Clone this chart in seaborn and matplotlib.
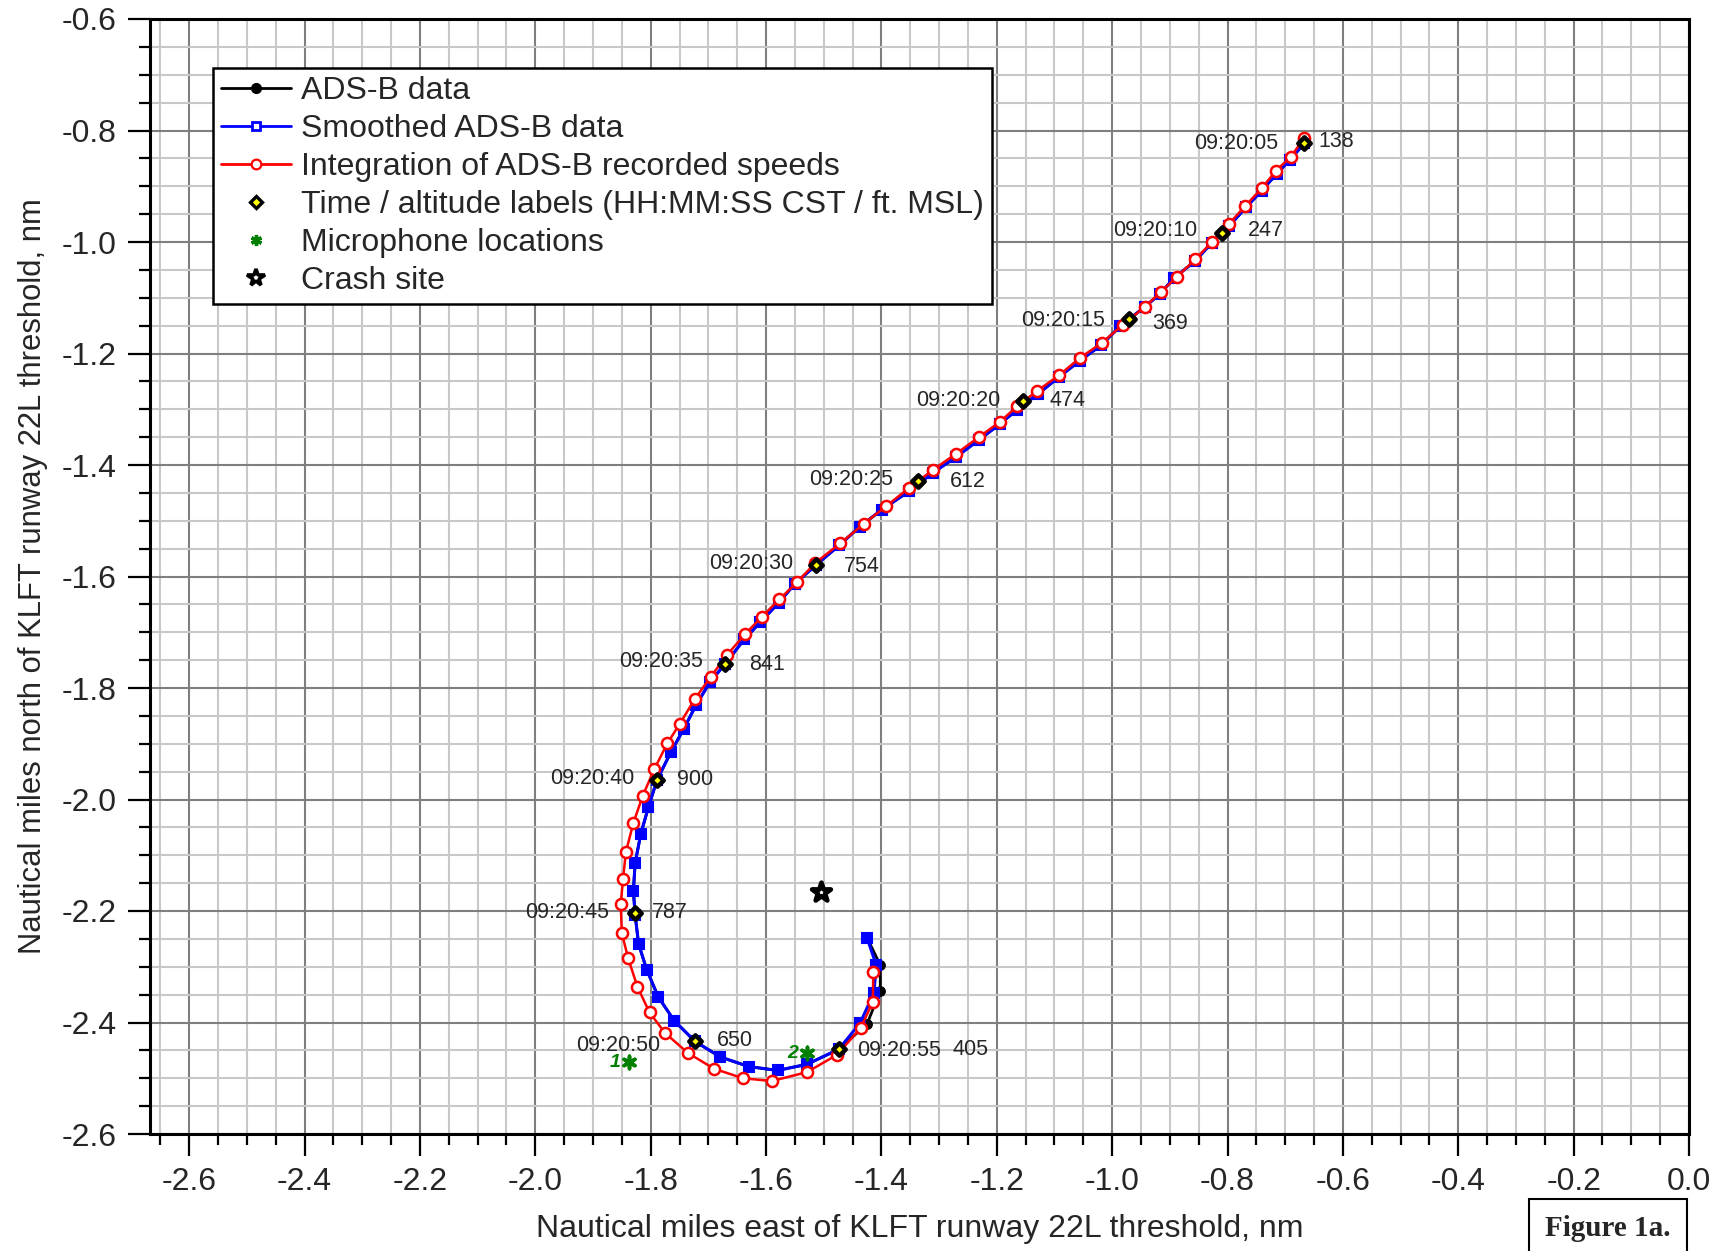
import pandas as pd
import seaborn as sb
import matplotlib.pyplot as plt
from matplotlib.lines import Line2D
from matplotlib.ticker import MultipleLocator, FormatStrFormatter

# track positions, nm east / nm north of KLFT runway 22L threshold (about 1 point per second)
adsb_x = [-0.667, -0.692, -0.715, -0.741, -0.768, -0.797, -0.827, -0.856, -0.893, -0.917,
          -0.943, -0.986, -1.019, -1.056, -1.092, -1.129, -1.165, -1.194, -1.231, -1.271,
          -1.311, -1.352, -1.399, -1.438, -1.473, -1.513, -1.550, -1.578, -1.610, -1.638,
          -1.671, -1.697, -1.721, -1.743, -1.765, -1.789, -1.804, -1.817, -1.827, -1.830,
          -1.827, -1.821, -1.807, -1.787, -1.759, -1.723, -1.679, -1.630, -1.580, -1.529,
          -1.474, -1.425, -1.402, -1.402, -1.425]
adsb_y = [-0.823, -0.853, -0.878, -0.908, -0.938, -0.971, -1.001, -1.034, -1.065, -1.093,
          -1.116, -1.151, -1.185, -1.213, -1.242, -1.273, -1.301, -1.326, -1.355, -1.386,
          -1.414, -1.447, -1.480, -1.511, -1.544, -1.579, -1.613, -1.647, -1.682, -1.713,
          -1.757, -1.789, -1.830, -1.874, -1.915, -1.965, -2.014, -2.061, -2.114, -2.164,
          -2.207, -2.259, -2.305, -2.354, -2.397, -2.434, -2.462, -2.479, -2.486, -2.475,
          -2.448, -2.403, -2.343, -2.297, -2.248]

smooth_x = adsb_x[:51] + [-1.437, -1.413, -1.409, -1.425]
smooth_y = adsb_y[:51] + [-2.401, -2.347, -2.297, -2.248]

integ_x = [-0.667, -0.690, -0.716, -0.741, -0.769, -0.798, -0.827, -0.856, -0.888, -0.916,
           -0.943, -0.982, -1.018, -1.056, -1.092, -1.130, -1.165, -1.194, -1.231, -1.271,
           -1.311, -1.352, -1.392, -1.431, -1.471, -1.515, -1.546, -1.577, -1.607, -1.636,
           -1.668, -1.696, -1.723, -1.750, -1.771, -1.794, -1.814, -1.830, -1.843, -1.848,
           -1.852, -1.850, -1.839, -1.823, -1.802, -1.775, -1.735, -1.690, -1.640, -1.590,
           -1.529, -1.477, -1.436, -1.415, -1.414]
integ_y = [-0.813, -0.847, -0.872, -0.904, -0.935, -0.968, -1.000, -1.031, -1.063, -1.090,
           -1.116, -1.149, -1.181, -1.208, -1.239, -1.267, -1.295, -1.322, -1.350, -1.380,
           -1.409, -1.441, -1.474, -1.506, -1.540, -1.576, -1.610, -1.641, -1.672, -1.703,
           -1.741, -1.780, -1.819, -1.865, -1.899, -1.946, -1.994, -2.042, -2.094, -2.143,
           -2.188, -2.240, -2.285, -2.336, -2.382, -2.419, -2.455, -2.483, -2.500, -2.505,
           -2.489, -2.458, -2.410, -2.363, -2.309]

label_times = ["09:20:05", "09:20:10", "09:20:15", "09:20:20", "09:20:25", "09:20:30",
               "09:20:35", "09:20:40", "09:20:45", "09:20:50", "09:20:55"]
label_alts = ["138", "247", "369", "474", "612", "754", "841", "900", "787", "650", "405"]
label_x = [-0.667, -0.810, -0.970, -1.154, -1.337, -1.513, -1.671, -1.789, -1.827, -1.723, -1.474]
label_y = [-0.823, -0.984, -1.139, -1.285, -1.429, -1.579, -1.757, -1.965, -2.203, -2.434, -2.448]

mic_names = ["1", "2"]
mic_x = [-1.837, -1.529]
mic_y = [-2.471, -2.455]

crash_x = [-1.505]
crash_y = [-2.166]

# text offsets (points) for the time / altitude labels
time_dx = [-19, -17.5, -17.5, -16.7, -17.5, -16.7, -16, -16, -19, -25, 13.5]
time_dy = [0, 1.5, -1, 0, 1.5, 1, 1.5, 1, 0, -3, -1]
alt_dx = [10, 19, 16.7, 19, 23, 20, 17.5, 14.3, 12, 16, 82]
alt_dy = [1.5, 1.5, -3, 0, 0, -1.5, 0, 0, 0, 1, 0]

sb.set_style("white")
plt.rcParams['font.family'] = ['Liberation Sans', 'DejaVu Sans']
plt.rcParams['axes.unicode_minus'] = False

fig = plt.figure(figsize=(17.31, 12.51), dpi=100)
ax = fig.add_axes([150 / 1731, 1 - 1134 / 1251, 1539 / 1731, 1115 / 1251])

adsb = pd.DataFrame({'x': adsb_x, 'y': adsb_y})
smooth = pd.DataFrame({'x': smooth_x, 'y': smooth_y})
integ = pd.DataFrame({'x': integ_x, 'y': integ_y})

sb.lineplot(data=adsb, x='x', y='y', sort=False, estimator=None, ax=ax, color='black',
            lw=2, marker='o', markersize=7, markeredgecolor='black', zorder=3)
sb.lineplot(data=smooth, x='x', y='y', sort=False, estimator=None, ax=ax, color='blue',
            lw=2.2, marker='s', markersize=6.5, markerfacecolor='blue', markeredgecolor='blue',
            markeredgewidth=1.5, zorder=4)
sb.lineplot(data=integ, x='x', y='y', sort=False, estimator=None, ax=ax, color='red',
            lw=1.8, marker='o', markersize=8, markerfacecolor='white', markeredgecolor='red',
            markeredgewidth=1.8, zorder=5)

labels = pd.DataFrame({'x': label_x, 'y': label_y})
sb.scatterplot(data=labels, x='x', y='y', ax=ax, marker='D', s=40, color='yellow',
               edgecolor='black', linewidth=3.2, zorder=6)
mics = pd.DataFrame({'x': mic_x, 'y': mic_y})
sb.scatterplot(data=mics, x='x', y='y', ax=ax, marker=(6, 2, 0), s=80, color='green',
               edgecolor='green', linewidth=2.6, zorder=6)
crash = pd.DataFrame({'x': crash_x, 'y': crash_y})
sb.scatterplot(data=crash, x='x', y='y', ax=ax, marker='*', s=200, color='white',
               edgecolor='black', linewidth=3.4, zorder=6)

for i in range(len(label_times)):
    ha = 'left' if time_dx[i] > 0 else 'right'
    ax.annotate(label_times[i], (label_x[i], label_y[i]), xytext=(time_dx[i], time_dy[i]),
                textcoords='offset points', ha=ha, va='center', fontsize=15.5, zorder=7)
    ax.annotate(label_alts[i], (label_x[i], label_y[i]), xytext=(alt_dx[i], alt_dy[i]),
                textcoords='offset points', ha='left', va='center', fontsize=15.5, zorder=7)

for name, mx, my in zip(mic_names, mic_x, mic_y):
    ax.annotate(name, (mx, my), xytext=(-10, 0), textcoords='offset points', ha='center',
                va='center', fontsize=14, color='green', fontweight='bold', fontstyle='italic')

ax.set_xlim(-2.668, 0.0)
ax.set_ylim(-2.6, -0.6)
ax.xaxis.set_major_locator(MultipleLocator(0.2))
ax.yaxis.set_major_locator(MultipleLocator(0.2))
ax.xaxis.set_minor_locator(MultipleLocator(0.05))
ax.yaxis.set_minor_locator(MultipleLocator(0.05))
ax.xaxis.set_major_formatter(FormatStrFormatter('%.1f'))
ax.yaxis.set_major_formatter(FormatStrFormatter('%.1f'))
ax.set_axisbelow(True)
ax.grid(which='minor', color='#c8c8c8', lw=1.5)
ax.grid(which='major', color='#7f7f7f', lw=1.5)
ax.tick_params(which='major', direction='out', length=16, width=1.6, labelsize=23, pad=8,
               left=True, bottom=True, color='black')
ax.tick_params(which='minor', direction='out', length=8, width=1.6, left=True, bottom=True,
               color='black')
for sp in ax.spines.values():
    sp.set_color('black')
    sp.set_linewidth(2.2)

ax.set_xlabel('Nautical miles east of KLFT runway 22L threshold, nm', fontsize=23, labelpad=12)
ax.set_ylabel('Nautical miles north of KLFT runway 22L threshold, nm', fontsize=22.3, labelpad=10)

handles = [
    Line2D([], [], color='black', lw=2, marker='o', markersize=7),
    Line2D([], [], color='blue', lw=2, marker='s', markersize=6, markerfacecolor='white',
           markeredgewidth=2),
    Line2D([], [], color='red', lw=2, marker='o', markersize=7, markerfacecolor='white',
           markeredgewidth=1.6),
    Line2D([], [], ls='none', marker='D', markersize=6, markerfacecolor='yellow',
           markeredgecolor='black', markeredgewidth=2.4),
    Line2D([], [], ls='none', marker=(6, 2, 0), markersize=8, color='green', markeredgewidth=2.4),
    Line2D([], [], ls='none', marker='*', markersize=13, markerfacecolor='white',
           markeredgecolor='black', markeredgewidth=2.6),
]
names = ['ADS-B data', 'Smoothed ADS-B data', 'Integration of ADS-B recorded speeds',
         'Time / altitude labels (HH:MM:SS CST / ft. MSL)', 'Microphone locations', 'Crash site']
leg = ax.legend(handles, names, loc='upper left', bbox_to_anchor=(0.041, 0.956),
                borderaxespad=0, fontsize=23, handlelength=2.2, handletextpad=0.3,
                labelspacing=0.25, borderpad=0.25, fancybox=False, framealpha=1,
                edgecolor='black')
leg.get_frame().set_linewidth(1.8)
leg.set_zorder(10)

fig.text(1608 / 1731, 1 - 1229 / 1251, 'Figure 1a.', ha='center', va='center', fontsize=21,
         fontweight='bold', family=['Liberation Serif', 'DejaVu Serif'],
         bbox=dict(boxstyle='square,pad=0.55', fc='white', ec='black', lw=1.5))

fig.savefig('out.png', dpi=100)
